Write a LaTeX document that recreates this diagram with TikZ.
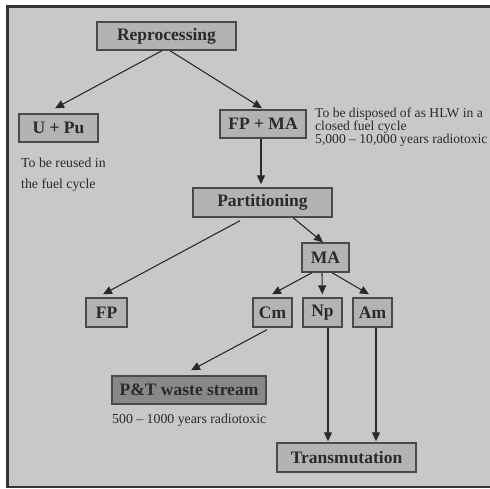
\documentclass[tikz,border=0pt]{standalone}
\usepackage{fontspec}
\setmainfont{Liberation Serif}
\usetikzlibrary{arrows.meta}
\definecolor{panel}{HTML}{C8C8C8}
\definecolor{boxfill}{HTML}{B3B3B3}
\definecolor{darkfill}{HTML}{888888}
\definecolor{edge}{HTML}{4A4A4A}
\definecolor{ink}{HTML}{2A2A2A}
\tikzset{
  stage/.style={draw=edge, line width=1.4pt, fill=boxfill, text=ink,
    font=\fontsize{17.5}{19}\selectfont\bfseries, inner sep=0pt,
    minimum height=28pt},
  wastebox/.style={stage, fill=darkfill},
  note/.style={text=ink, font=\fontsize{13.6}{13}\selectfont, inner sep=0pt, align=left},
  flow/.style={draw=ink, line width=1.1pt, -{Triangle[length=9pt,width=8pt]}}
}
\begin{document}
\begin{tikzpicture}[x=1pt,y=-1pt]
  \useasboundingbox (0,0) rectangle (490,488);
  \clip (0,0) rectangle (490,488);
  % panel with its frame
  \fill[panel] (7.5,6.5) rectangle (495,487);
  \draw[edge!70!black, line width=2.6pt] (495,6.5) -- (7.5,6.5) -- (7.5,487) -- (495,487);

  % stages
  \node[stage, minimum width=139pt] (rep)   at (166.5,36)  {Reprocessing};
  \node[stage, minimum width=79pt]  (upu)   at (58.5,128)  {U + Pu};
  \node[stage, minimum width=86pt]  (fpma)  at (263,124)   {FP + MA};
  \node[stage, minimum width=139pt, minimum height=29pt] (part) at (262.5,202.5) {Partitioning};
  \node[stage, minimum width=47pt, minimum height=29pt]  (ma)   at (325.5,257.5) {MA};
  \node[stage, minimum width=41pt, minimum height=29pt]  (fp)   at (106.5,312.5) {FP};
  \node[stage, minimum width=39pt, minimum height=29pt]  (cm)   at (272.5,312.5) {Cm};
  \node[stage, minimum width=39pt, minimum height=29pt]  (np)   at (322.5,312.5) {Np};
  \node[stage, minimum width=39pt, minimum height=29pt]  (am)   at (372.5,312.5) {Am};
  \node[wastebox, minimum width=154pt] (pt) at (189,390) {P\&T waste stream};
  \node[stage, minimum width=139pt, minimum height=29pt] (trans) at (346.5,457.5) {Transmutation};

  % notes
  \node[note, anchor=north west] (hlw) at (315,107.5)
    {To be disposed of as HLW in a\\closed fuel cycle\\5,000 -- 10,000 years radiotoxic};
  \node[note, anchor=north west, font=\fontsize{13.8}{21}\selectfont] (reuse) at (21,157.5)
    {To be reused in\\the fuel cycle};
  \node[note, anchor=base west, font=\fontsize{13.8}{13}\selectfont] (ptnote) at (112,423) {500 -- 1000 years radiotoxic};

  % flows
  \draw[flow] ([xshift=-4.5pt]rep.south) -- ([xshift=-3.5pt,yshift=5pt]upu.north);
  \draw[flow] ([xshift=3.5pt]rep.south) -- ([xshift=-1pt,yshift=1pt]fpma.north);
  \draw[flow] ([xshift=-2pt]fpma.south) -- ([xshift=-1.5pt,yshift=3pt]part.north);
  \draw[flow] ([xshift=-22.5pt,yshift=-3pt]part.south) -- ([xshift=-3.5pt,yshift=3pt]fp.north);
  \draw[flow] ([xshift=30.5pt]part.south) -- ([xshift=-2.5pt]ma.north);
  \draw[flow] ([xshift=-13.5pt]ma.south) -- ([xshift=-0.5pt,yshift=3pt]cm.north);
  \draw[flow] ([xshift=-3.5pt]ma.south) -- ([xshift=-0.2pt,yshift=3pt]np.north);
  \draw[flow] ([xshift=6.5pt]ma.south) -- ([xshift=-3.5pt,yshift=3pt]am.north);
  \draw[flow] ([xshift=-5.5pt,yshift=-2pt]cm.south) -- ([xshift=2pt,yshift=5pt]pt.north);
  \draw[flow] ([xshift=5.5pt]np.south) -- ([xshift=-18.5pt,yshift=1pt]trans.north);
  \draw[flow] ([xshift=3.5pt]am.south) -- ([xshift=29.5pt,yshift=1pt]trans.north);
\end{tikzpicture}
\end{document}
